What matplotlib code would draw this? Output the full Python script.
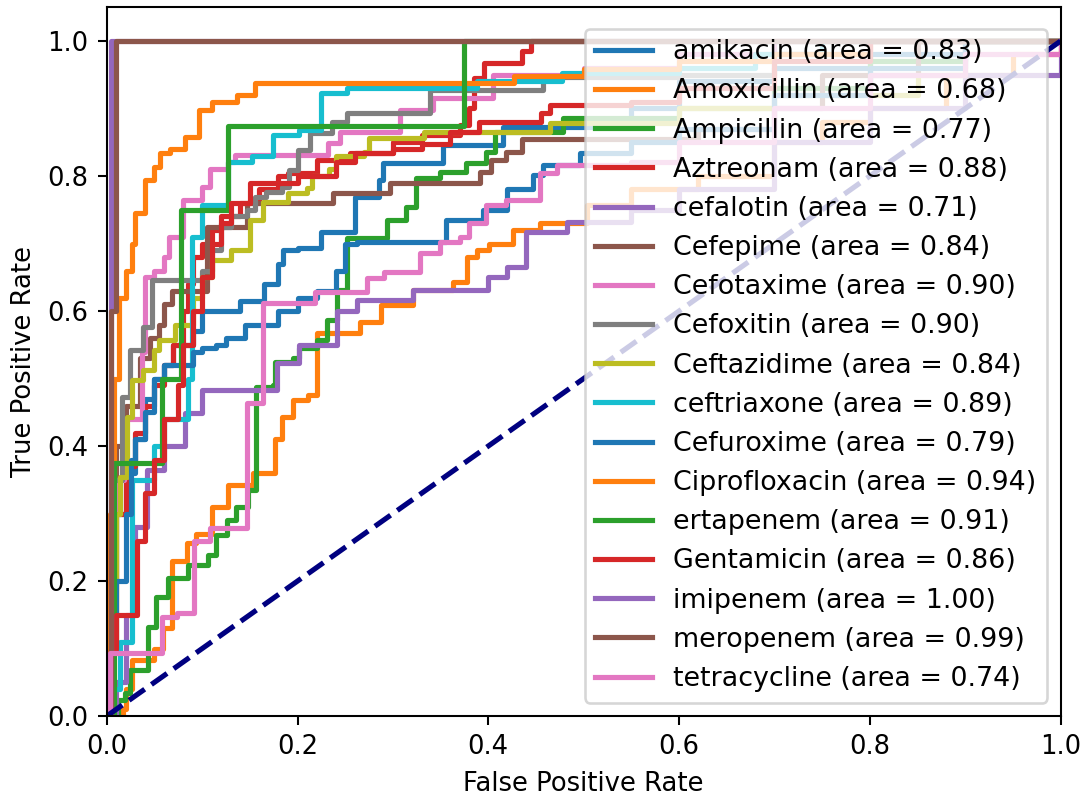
import matplotlib
matplotlib.use("Agg")
import matplotlib.pyplot as plt

# noms des antibiotiques et AUC (ordre de la légende)
noms = ['amikacin', 'Amoxicillin', 'Ampicillin', 'Aztreonam', 'cefalotin', 'Cefepime',
        'Cefotaxime', 'Cefoxitin', 'Ceftazidime', 'ceftriaxone', 'Cefuroxime',
        'Ciprofloxacin', 'ertapenem', 'Gentamicin', 'imipenem', 'meropenem', 'tetracycline']
aires = [0.83, 0.68, 0.77, 0.88, 0.71, 0.84, 0.90, 0.90, 0.84, 0.89, 0.79,
         0.94, 0.91, 0.86, 1.00, 0.99, 0.74]

# points des courbes ROC (fpr, tpr)
fpr_amikacin = [0, 0.005, 0.01, 0.02, 0.03, 0.04, 0.05, 0.06, 0.07, 0.09, 0.1, 0.14, 0.165, 0.18, 0.185, 0.2, 0.225, 0.26, 0.285, 0.29, 0.352, 0.415, 0.55, 0.6, 0.7, 0.8, 0.9, 1]
tpr_amikacin = [0, 0.2, 0.3, 0.36, 0.41, 0.47, 0.5, 0.52, 0.55, 0.57, 0.6, 0.615, 0.64, 0.67, 0.69, 0.693, 0.717, 0.769, 0.794, 0.819, 0.846, 0.873, 0.9, 0.94, 0.96, 0.98, 1.0, 1.0]

fpr_amoxicillin = [0, 0.017, 0.02, 0.027, 0.05, 0.059, 0.068, 0.084, 0.094, 0.11, 0.127, 0.153, 0.176, 0.184, 0.195, 0.211, 0.22, 0.265, 0.288, 0.321, 0.363, 0.378, 0.388, 0.401, 0.426, 0.454, 0.503, 0.55, 0.62, 0.7, 0.75, 0.8, 0.88, 0.95, 1]
tpr_amoxicillin = [0, 0.01, 0.04, 0.083, 0.1, 0.13, 0.23, 0.256, 0.27, 0.31, 0.342, 0.36, 0.41, 0.443, 0.468, 0.476, 0.567, 0.584, 0.609, 0.631, 0.643, 0.68, 0.69, 0.70, 0.72, 0.73, 0.757, 0.78, 0.8, 0.85, 0.88, 0.9, 0.95, 0.98, 1.0]

fpr_ampicillin = [0, 0.012, 0.019, 0.024, 0.043, 0.052, 0.064, 0.085, 0.106, 0.115, 0.126, 0.136, 0.148, 0.157, 0.174, 0.176, 0.195, 0.202, 0.22, 0.231, 0.241, 0.252, 0.294, 0.314, 0.324, 0.349, 0.377, 0.398, 0.407, 0.478, 0.6, 0.7, 0.8, 0.9, 1]
tpr_ampicillin = [0, 0.024, 0.034, 0.068, 0.132, 0.176, 0.204, 0.224, 0.239, 0.268, 0.29, 0.31, 0.335, 0.487, 0.49, 0.524, 0.53, 0.545, 0.557, 0.587, 0.631, 0.708, 0.735, 0.754, 0.797, 0.806, 0.819, 0.836, 0.865, 0.886, 0.9, 0.93, 0.97, 1.0, 1.0]

fpr_aztreonam = [0, 0.003, 0.01, 0.02, 0.03, 0.04, 0.05, 0.06, 0.07, 0.08, 0.085, 0.09, 0.1, 0.11, 0.12, 0.14, 0.16, 0.18, 0.19, 0.22, 0.255, 0.3, 0.33, 0.37, 0.38, 0.385, 0.395, 0.435, 0.445, 1]
tpr_aztreonam = [0, 0.15, 0.3, 0.37, 0.42, 0.46, 0.49, 0.52, 0.55, 0.6, 0.64, 0.68, 0.7, 0.72, 0.74, 0.76, 0.78, 0.8, 0.804, 0.824, 0.834, 0.85, 0.86, 0.876, 0.9, 0.945, 0.967, 0.985, 1.0, 1.0]

fpr_cefalotin = [0, 0.01, 0.02, 0.03, 0.042, 0.06, 0.082, 0.1, 0.179, 0.202, 0.241, 0.262, 0.321, 0.4, 0.42, 0.44, 0.482, 0.55, 0.6, 0.7, 0.8, 0.9, 1]
tpr_cefalotin = [0, 0.05, 0.15, 0.28, 0.364, 0.4, 0.449, 0.483, 0.523, 0.55, 0.6, 0.616, 0.631, 0.65, 0.665, 0.717, 0.732, 0.75, 0.78, 0.85, 0.9, 0.95, 1.0]

fpr_cefepime = [0, 0.005, 0.01, 0.02, 0.035, 0.045, 0.055, 0.06, 0.068, 0.105, 0.147, 0.237, 0.297, 0.391, 0.403, 0.419, 0.435, 0.62, 0.7, 0.75, 0.85, 1]
tpr_cefepime = [0, 0.3, 0.4, 0.46, 0.53, 0.56, 0.58, 0.61, 0.63, 0.725, 0.76, 0.775, 0.79, 0.806, 0.824, 0.836, 0.855, 0.87, 0.9, 0.95, 1.0, 1.0]

fpr_cefotaxime = [0, 0.005, 0.01, 0.018, 0.037, 0.04, 0.05, 0.06, 0.065, 0.08, 0.1, 0.108, 0.127, 0.134, 0.232, 0.245, 0.307, 0.342, 0.405, 0.5, 0.6, 0.7, 1]
tpr_cefotaxime = [0, 0.2, 0.35, 0.44, 0.54, 0.65, 0.66, 0.68, 0.71, 0.764, 0.784, 0.81, 0.82, 0.831, 0.849, 0.865, 0.898, 0.916, 0.95, 0.96, 0.98, 1.0, 1.0]

fpr_cefoxitin = [0, 0.005, 0.016, 0.024, 0.038, 0.047, 0.1, 0.11, 0.12, 0.13, 0.147, 0.155, 0.167, 0.184, 0.191, 0.2, 0.213, 0.236, 0.252, 0.339, 0.457, 0.6, 0.7, 0.8, 1]
tpr_cefoxitin = [0, 0.35, 0.473, 0.542, 0.576, 0.646, 0.66, 0.69, 0.724, 0.74, 0.75, 0.769, 0.776, 0.784, 0.809, 0.839, 0.864, 0.88, 0.893, 0.927, 0.947, 0.95, 0.98, 1.0, 1.0]

fpr_ceftazidime = [0, 0.005, 0.01, 0.014, 0.021, 0.027, 0.038, 0.05, 0.055, 0.072, 0.09, 0.1, 0.11, 0.13, 0.15, 0.164, 0.19, 0.21, 0.215, 0.233, 0.24, 0.27, 0.275, 0.333, 0.465, 0.6, 0.7, 0.85, 0.9, 1]
tpr_ceftazidime = [0, 0.1, 0.3, 0.354, 0.443, 0.498, 0.513, 0.542, 0.557, 0.58, 0.62, 0.65, 0.675, 0.69, 0.735, 0.761, 0.775, 0.782, 0.8, 0.81, 0.83, 0.836, 0.856, 0.865, 0.879, 0.9, 0.92, 0.95, 1.0, 1.0]

fpr_ceftriaxone = [0, 0.005, 0.014, 0.026, 0.05, 0.06, 0.085, 0.089, 0.10, 0.127, 0.152, 0.174, 0.202, 0.225, 0.252, 0.388, 0.477, 0.6, 0.68, 0.75, 1]
tpr_ceftriaxone = [0, 0.04, 0.11, 0.35, 0.4, 0.44, 0.5, 0.71, 0.757, 0.82, 0.83, 0.861, 0.868, 0.923, 0.93, 0.94, 0.953, 0.96, 0.98, 1.0, 1.0]

fpr_cefuroxime = [0, 0.005, 0.01, 0.02, 0.025, 0.03, 0.04, 0.05, 0.06, 0.09, 0.1, 0.115, 0.125, 0.145, 0.18, 0.2, 0.22, 0.24, 0.25, 0.262, 0.356, 0.394, 0.42, 0.447, 0.457, 0.496, 0.55, 0.6, 0.7, 0.8, 0.9, 1]
tpr_cefuroxime = [0, 0.1, 0.2, 0.3, 0.38, 0.41, 0.45, 0.5, 0.52, 0.54, 0.545, 0.55, 0.56, 0.58, 0.6, 0.62, 0.63, 0.66, 0.7, 0.702, 0.735, 0.75, 0.78, 0.801, 0.816, 0.834, 0.85, 0.87, 0.92, 0.96, 1.0, 1.0]

fpr_ciprofloxacin = [0, 0.003, 0.008, 0.013, 0.02, 0.027, 0.03, 0.04, 0.05, 0.056, 0.066, 0.082, 0.097, 0.11, 0.137, 0.155, 0.427, 0.5, 0.6, 0.7, 0.8, 1]
tpr_ciprofloxacin = [0, 0.3, 0.5, 0.62, 0.66, 0.7, 0.745, 0.794, 0.813, 0.834, 0.84, 0.858, 0.898, 0.91, 0.92, 0.938, 0.948, 0.958, 0.97, 0.98, 1.0, 1.0]

fpr_ertapenem = [0, 0.008, 0.058, 0.078, 0.127, 0.375, 1]
tpr_ertapenem = [0, 0.375, 0.5, 0.75, 0.874, 1.0, 1.0]

fpr_gentamicin = [0, 0.005, 0.01, 0.032, 0.04, 0.05, 0.06, 0.075, 0.08, 0.09, 0.1, 0.11, 0.12, 0.13, 0.15, 0.2, 0.24, 0.26, 0.3, 0.33, 0.36, 0.39, 0.455, 0.465, 0.55, 0.6, 0.7, 0.8, 1]
tpr_gentamicin = [0, 0.1, 0.15, 0.26, 0.33, 0.38, 0.44, 0.49, 0.55, 0.6, 0.65, 0.7, 0.73, 0.76, 0.79, 0.8, 0.82, 0.834, 0.84, 0.848, 0.865, 0.88, 0.893, 0.905, 0.91, 0.93, 0.97, 1.0, 1.0]

fpr_imipenem = [0, 0.005, 1]
tpr_imipenem = [0, 1.0, 1.0]

fpr_meropenem = [0, 0.005, 0.01, 1]
tpr_meropenem = [0, 0.6, 1.0, 1.0]

fpr_tetracycline = [0, 0.003, 0.058, 0.074, 0.092, 0.108, 0.147, 0.164, 0.218, 0.273, 0.291, 0.328, 0.349, 0.37, 0.38, 0.398, 0.419, 0.454, 0.472, 0.55, 0.6, 0.7, 0.8, 0.9, 1]
tpr_tetracycline = [0, 0.093, 0.147, 0.153, 0.26, 0.279, 0.464, 0.612, 0.628, 0.649, 0.658, 0.686, 0.702, 0.71, 0.73, 0.757, 0.764, 0.804, 0.816, 0.82, 0.85, 0.9, 0.95, 0.98, 1.0]

liste_fpr = [fpr_amikacin, fpr_amoxicillin, fpr_ampicillin, fpr_aztreonam, fpr_cefalotin,
             fpr_cefepime, fpr_cefotaxime, fpr_cefoxitin, fpr_ceftazidime, fpr_ceftriaxone,
             fpr_cefuroxime, fpr_ciprofloxacin, fpr_ertapenem, fpr_gentamicin, fpr_imipenem,
             fpr_meropenem, fpr_tetracycline]
liste_tpr = [tpr_amikacin, tpr_amoxicillin, tpr_ampicillin, tpr_aztreonam, tpr_cefalotin,
             tpr_cefepime, tpr_cefotaxime, tpr_cefoxitin, tpr_ceftazidime, tpr_ceftriaxone,
             tpr_cefuroxime, tpr_ciprofloxacin, tpr_ertapenem, tpr_gentamicin, tpr_imipenem,
             tpr_meropenem, tpr_tetracycline]

fig = plt.figure(figsize=(1089 / 186, 801 / 186), dpi=186)
ax = fig.add_axes([0.098, 0.106, 0.876, 0.885])

# une courbe par antibiotique
for nom, aire, fpr, tpr in zip(noms, aires, liste_fpr, liste_tpr):
    ax.plot(fpr, tpr, lw=2, drawstyle='steps-post',
            label='%s (area = %0.2f)' % (nom, aire))

# diagonale
ax.plot([0, 1], [0, 1], color='navy', lw=2, linestyle='--')

ax.set_xlim([0.0, 1.0])
ax.set_ylim([0.0, 1.05])
ax.set_xlabel('False Positive Rate')
ax.set_ylabel('True Positive Rate')
ax.legend(loc='lower right', fontsize=10.4, labelspacing=0.49, handlelength=2.1)

fig.savefig('out.png', dpi=186)
